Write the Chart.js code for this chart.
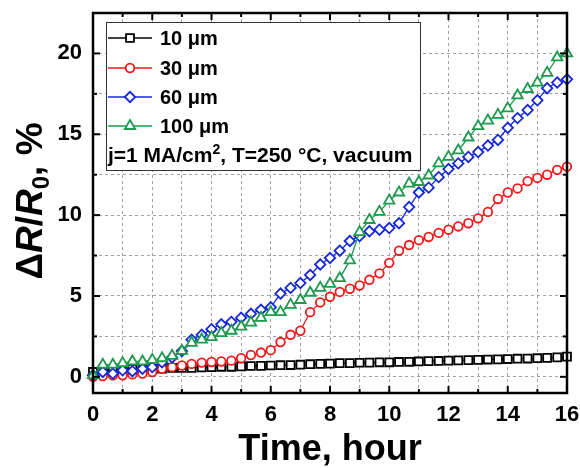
<!DOCTYPE html>
<html>
<head>
<meta charset="utf-8">
<script src="https://cdn.jsdelivr.net/npm/chart.js@4.4.1/dist/chart.umd.min.js"></script>
<style>
  html, body { margin: 0; padding: 0; background: #fff; }
  #wrap { width: 580px; height: 468px; }
</style>
</head>
<body>
<div id="wrap"><canvas id="chart" width="580" height="468"></canvas></div>
<script>
// time in hours
const hours = [0, 0.33, 0.67, 1, 1.33, 1.67, 2, 2.33, 2.67, 3, 3.33, 3.67, 4, 4.33, 4.67, 5, 5.33, 5.67, 6, 6.33, 6.67, 7, 7.33, 7.67, 8, 8.33, 8.67, 9, 9.33, 9.67, 10, 10.33, 10.67, 11, 11.33, 11.67, 12, 12.33, 12.67, 13, 13.33, 13.67, 14, 14.33, 14.67, 15, 15.33, 15.67, 16]

// dR/R0 in %
const d10 = [0.3, 0.45, 0.45, 0.5, 0.5, 0.5, 0.5, 0.5, 0.55, 0.55, 0.55, 0.58, 0.6, 0.62, 0.62, 0.65, 0.67, 0.68, 0.7, 0.72, 0.73, 0.75, 0.78, 0.8, 0.82, 0.85, 0.85, 0.87, 0.88, 0.9, 0.9, 0.92, 0.93, 0.95, 0.97, 0.98, 1.0, 1.02, 1.03, 1.05, 1.07, 1.08, 1.1, 1.12, 1.13, 1.15, 1.17, 1.2, 1.25]
const d30 = [0.0, 0.05, 0.1, 0.1, 0.15, 0.2, 0.3, 0.5, 0.6, 0.7, 0.8, 0.88, 0.92, 0.95, 1.0, 1.15, 1.35, 1.5, 1.65, 2.15, 2.6, 2.85, 4.0, 4.6, 4.95, 5.25, 5.45, 5.65, 6.0, 6.4, 7.05, 7.8, 8.15, 8.45, 8.65, 8.9, 9.1, 9.3, 9.5, 9.8, 10.2, 11.0, 11.4, 11.65, 12.1, 12.3, 12.5, 12.8, 13.0]
const d60 = [0.1, 0.3, 0.2, 0.4, 0.35, 0.5, 0.6, 0.9, 1.2, 1.6, 2.3, 2.6, 2.95, 3.25, 3.4, 3.65, 3.9, 4.15, 4.3, 5.15, 5.5, 5.8, 6.3, 6.95, 7.35, 7.8, 8.4, 8.7, 9.0, 9.1, 9.2, 9.5, 10.5, 11.4, 11.7, 12.35, 12.85, 13.2, 13.6, 13.9, 14.3, 14.65, 15.4, 16.0, 16.5, 17.1, 17.85, 18.2, 18.4]
const d100 = [0.1, 0.75, 0.75, 0.85, 0.95, 0.95, 1.05, 1.15, 1.3, 1.6, 2.1, 2.3, 2.45, 2.7, 2.85, 3.1, 3.35, 3.65, 4.0, 4.0, 4.45, 4.75, 5.2, 5.5, 5.75, 6.1, 7.2, 8.95, 9.7, 10.2, 10.9, 11.4, 11.95, 12.05, 12.45, 13.2, 13.6, 14.0, 14.8, 15.5, 15.85, 16.2, 16.6, 17.4, 17.8, 18.2, 18.8, 19.75, 20.0]

const seriesLabels = ["10 μm", "30 μm", "60 μm", "100 μm"]
const xTicks = [0, 1, 2, 3, 4, 5, 6, 7, 8, 9, 10, 11, 12, 13, 14, 15, 16]
const yTicks = [0, 2.5, 5, 7.5, 10, 12.5, 15, 17.5, 20]

const FONT = "'Liberation Sans', Arial, Helvetica, sans-serif"
const colors = ["#000000", "#f01818", "#1628d8", "#1d9a4e"]

const toPoints = (vals) => hours.map((t, i) => ({ x: t, y: vals[i] }))

const makeSet = (label, vals, color, style, radius, order) => ({
  label,
  data: toPoints(vals),
  borderColor: color,
  borderWidth: 1.3,
  pointStyle: style,
  pointRadius: radius,
  pointBorderColor: color,
  pointBackgroundColor: "#ffffff",
  pointBorderWidth: 1.8,
  tension: 0,
  clip: false,
  order,
})

const datasets = [
  makeSet(seriesLabels[0], d10, colors[0], "rect", 5.6, 4),
  makeSet(seriesLabels[1], d30, colors[1], "circle", 4.3, 3),
  makeSet(seriesLabels[2], d60, colors[2], "rectRot", 5.2, 2),
  makeSet(seriesLabels[3], d100, colors[3], "triangle", 6, 1),
]

// frame with inward ticks, axis titles, legend box
const decorations = {
  id: "decorations",
  afterDraw(chart) {
    const { ctx, chartArea: a, scales: { x, y } } = chart
    const line = (x1, y1, x2, y2) => {
      ctx.beginPath(); ctx.moveTo(x1, y1); ctx.lineTo(x2, y2); ctx.stroke()
    }
    ctx.save()
    ctx.strokeStyle = "#000"
    ctx.lineWidth = 2
    xTicks.forEach((v) => {
      const px = x.getPixelForValue(v)
      const len = v % 2 === 0 ? 7 : 4
      line(px, a.bottom, px, a.bottom - len)
      line(px, a.top, px, a.top + len)
    })
    yTicks.forEach((v) => {
      const py = y.getPixelForValue(v)
      const len = v % 5 === 0 ? 7 : 4
      line(a.left, py, a.left + len, py)
      line(a.right, py, a.right - len, py)
    })
    ctx.lineWidth = 2.5
    ctx.strokeRect(a.left, a.top, a.right - a.left, a.bottom - a.top)

    // x title
    ctx.fillStyle = "#000"
    ctx.font = `bold 36px ${FONT}`
    ctx.textAlign = "center"
    ctx.textBaseline = "alphabetic"
    ctx.fillText("Time, hour", (a.left + a.right) / 2, 460)

    // y title: ΔR/R0, %
    const parts = [
      { t: "Δ", f: `bold 37px ${FONT}`, dy: 0 },
      { t: "R", f: `italic bold 37px ${FONT}`, dy: 0 },
      { t: "/", f: `bold 37px ${FONT}`, dy: 0 },
      { t: "R", f: `italic bold 37px ${FONT}`, dy: 0 },
      { t: "0", f: `bold 24px ${FONT}`, dy: 7 },
      { t: ", %", f: `bold 37px ${FONT}`, dy: 0 },
    ]
    let total = 0
    parts.forEach((p) => { ctx.font = p.f; p.w = ctx.measureText(p.t).width; total += p.w })
    ctx.translate(42, 201)
    ctx.rotate(-Math.PI / 2)
    ctx.textAlign = "left"
    let cx = -total / 2
    parts.forEach((p) => { ctx.font = p.f; ctx.fillText(p.t, cx, p.dy); cx += p.w })
    ctx.restore()

    // legend
    ctx.save()
    const box = { l: 106, t: 22, r: 420, b: 170 }
    ctx.fillStyle = "#fff"
    ctx.fillRect(box.l, box.t, box.r - box.l, box.b - box.t)
    ctx.strokeStyle = "#333"
    ctx.lineWidth = 1
    ctx.strokeRect(box.l + 0.5, box.t + 0.5, box.r - box.l, box.b - box.t)
    const rowY = [38, 68, 97, 126]
    chart.data.datasets.forEach((ds, i) => {
      const yy = rowY[i]
      ctx.strokeStyle = ds.borderColor
      ctx.lineWidth = ds.borderWidth
      line(108, yy, 152, yy)
      ctx.fillStyle = "#fff"
      ctx.lineWidth = ds.pointBorderWidth
      Chart.helpers.drawPoint(ctx, { pointStyle: ds.pointStyle, radius: ds.pointRadius, rotation: 0, borderWidth: ds.pointBorderWidth }, 130, yy)
      ctx.fillStyle = "#000"
      ctx.font = `bold 20px ${FONT}`
      ctx.textAlign = "left"
      ctx.textBaseline = "middle"
      ctx.fillText(ds.label, 160, yy + 1)
    })
    // conditions line
    ctx.fillStyle = "#000"
    ctx.textBaseline = "alphabetic"
    let tx = 108
    const base = 162
    ctx.font = `bold 21px ${FONT}`
    const s1 = "j=1 MA/cm"
    ctx.fillText(s1, tx, base); tx += ctx.measureText(s1).width
    ctx.font = `bold 14px ${FONT}`
    ctx.fillText("2", tx, base - 8); tx += ctx.measureText("2").width
    ctx.font = `bold 21px ${FONT}`
    ctx.fillText(", T=250 °C, vacuum", tx, base)
    ctx.restore()
  },
}

new Chart(document.getElementById("chart"), {
  type: "line",
  data: { datasets },
  options: {
    responsive: false,
    animation: false,
    devicePixelRatio: 1,
    layout: { padding: { top: 13, right: 13, left: 0, bottom: 0 } },
    plugins: { legend: { display: false }, tooltip: { enabled: false } },
    scales: {
      x: {
        type: "linear",
        min: 0,
        max: 16,
        afterBuildTicks: (s) => { s.ticks = xTicks.map((v) => ({ value: v })) },
        afterFit: (s) => { s.height = 75; s.paddingLeft = 0; s.paddingRight = 0 },
        ticks: {
          callback: (v) => (v % 2 === 0 ? v : ""),
          color: "#000",
          font: { family: FONT, size: 22, weight: "bold" },
          padding: 9,
          maxRotation: 0,
          autoSkip: false,
        },
        grid: { color: "#a0a0a0", lineWidth: 1, drawTicks: false },
        border: { display: false, dash: [3, 3] },
      },
      y: {
        type: "linear",
        min: -1,
        max: 22.5,
        afterBuildTicks: (s) => { s.ticks = yTicks.map((v) => ({ value: v })) },
        afterFit: (s) => { s.width = 93; s.paddingTop = 0; s.paddingBottom = 0 },
        ticks: {
          callback: (v) => (v % 5 === 0 ? v : ""),
          color: "#000",
          font: { family: FONT, size: 22, weight: "bold" },
          padding: 11,
          autoSkip: false,
        },
        grid: { color: "#a0a0a0", lineWidth: 1, drawTicks: false },
        border: { display: false, dash: [3, 3] },
      },
    },
  },
  plugins: [decorations],
})
</script>
</body>
</html>
